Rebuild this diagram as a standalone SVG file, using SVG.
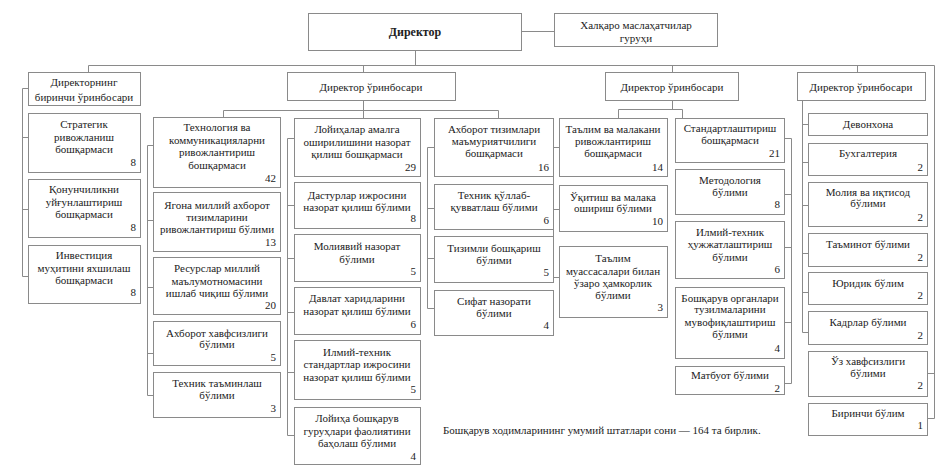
<svg xmlns="http://www.w3.org/2000/svg" width="947" height="473" viewBox="0 0 947 473">
<style>
.b{fill:#fff;stroke:#8a8a8a;stroke-width:1}
.t{font-family:"Liberation Serif","Times New Roman",serif;font-size:11px;fill:#222;text-anchor:middle}
.n{text-anchor:end}
.c{stroke:#8a8a8a;stroke-width:1;fill:none}
.h{font-weight:bold;font-size:12px}
</style>
<rect width="947" height="473" fill="#fff"/>
<g id="connectors" class="c">
<path d="M415.5 50V65.5M88.5 65.5H934.5M88.5 65.5V72M363.5 65.5V72M672.5 65.5V72M857.5 65.5V72M521 31.5H554"/>
<path d="M363.5 100V110.5M223.5 110.5H498.5M223.5 110.5V117M363.5 110.5V118M498.5 110.5V118"/>
<path d="M672.5 100V109.5M618.5 109.5H682.5M618.5 109.5V118M682.5 109.5V118"/>
<path d="M22.5 88.5V276.5M22.5 88.5H28M22.5 137.5H28M22.5 209.5H28M22.5 276.5H28"/>
<path d="M147.5 145.5V395.5M147.5 145.5H153M147.5 220.5H153M147.5 287.5H153M147.5 353.5H153M147.5 395.5H153"/>
<path d="M287.5 138.5V435.5M287.5 138.5H294M287.5 205.5H294M287.5 258.5H294M287.5 312.5H294M287.5 372.5H294M287.5 435.5H294"/>
<path d="M427.5 147.5V308.5M427.5 147.5H434M427.5 208.5H434M427.5 258.5H434M427.5 308.5H434"/>
<path d="M553.5 147.5V277.5M553.5 147.5H559M553.5 209.5H559M553.5 277.5H559"/>
<path d="M791.5 138.5V383.5M784 138.5H791.5M784 194.5H791.5M784 247.5H791.5M784 322.5H791.5M784 383.5H791.5"/>
<path d="M802.5 100V332.5M802.5 124.5H808M802.5 162.5H808M802.5 205.5H808M802.5 253.5H808M802.5 292.5H808M802.5 332.5H808"/>
<path d="M934.5 65.5V418.5M927 373.5H934.5M927 418.5H934.5"/>
</g>
<g id="director"><rect class="b" x="308.5" y="13.5" width="213" height="37"/><text class="t h" x="415" y="36">Директор</text></g>
<g id="intl"><rect class="b" x="554.5" y="13.5" width="163" height="33"/><text class="t" x="636" y="29">Халқаро маслаҳатчилар</text><text class="t" x="636" y="42">гуруҳи</text></g>
<g id="dep1"><rect class="b" x="28.5" y="72.5" width="112" height="33"/><text class="t" x="84" y="86">Директорнинг</text><text class="t" x="84" y="101">биринчи ўринбосари</text></g>
<g id="dep2"><rect class="b" x="287.5" y="72.5" width="168" height="28"/><text class="t" x="371" y="91">Директор ўринбосари</text></g>
<g id="dep3"><rect class="b" x="605.5" y="72.5" width="133" height="28"/><text class="t" x="672" y="91">Директор ўринбосари</text></g>
<g id="dep4"><rect class="b" x="797.5" y="72.5" width="128" height="28"/><text class="t" x="861" y="91">Директор ўринбосари</text></g>

<g id="strategik"><rect class="b" x="28.5" y="113.5" width="112" height="59"/><text class="t" x="84" y="128">Стратегик</text><text class="t" x="84" y="141">ривожланиш</text><text class="t" x="84" y="153">бошқармаси</text><text class="t n" x="136" y="166">8</text></g>
<g id="qonun"><rect class="b" x="28.5" y="179.5" width="112" height="58"/><text class="t" x="84" y="193">Қонунчиликни</text><text class="t" x="84" y="206">уйғунлаштириш</text><text class="t" x="84" y="218">бошқармаси</text><text class="t n" x="136" y="231">8</text></g>
<g id="invest"><rect class="b" x="28.5" y="245.5" width="112" height="58"/><text class="t" x="84" y="259">Инвестиция</text><text class="t" x="84" y="272">муҳитини яхшилаш</text><text class="t" x="84" y="284">бошқармаси</text><text class="t n" x="136" y="296">8</text></g>

<g id="tech"><rect class="b" x="153.5" y="117.5" width="127" height="70"/><text class="t" x="217" y="131">Технология ва</text><text class="t" x="217" y="144">коммуникацияларни</text><text class="t" x="217" y="156">ривожлантириш</text><text class="t" x="217" y="169">бошқармаси</text><text class="t n" x="276" y="182">42</text></g>
<g id="yagona"><rect class="b" x="153.5" y="192.5" width="127" height="59"/><text class="t" x="217" y="209">Ягона миллий ахборот</text><text class="t" x="217" y="221">тизимларини</text><text class="t" x="217" y="233">ривожлантириш бўлими</text><text class="t n" x="276" y="246">13</text></g>
<g id="resurs"><rect class="b" x="153.5" y="257.5" width="127" height="57"/><text class="t" x="217" y="272">Ресурслар миллий</text><text class="t" x="217" y="285">маълумотномасини</text><text class="t" x="217" y="297">ишлаб чиқиш бўлими</text><text class="t n" x="276" y="309">20</text></g>
<g id="axbxavf"><rect class="b" x="153.5" y="321.5" width="127" height="44"/><text class="t" x="217" y="337">Ахборот хавфсизлиги</text><text class="t" x="217" y="348">бўлими</text><text class="t n" x="276" y="361">5</text></g>
<g id="texnik"><rect class="b" x="153.5" y="372.5" width="127" height="45"/><text class="t" x="217" y="387">Техник таъминлаш</text><text class="t" x="217" y="399">бўлими</text><text class="t n" x="276" y="412">3</text></g>

<g id="loyiha"><rect class="b" x="294.5" y="118.5" width="126" height="58"/><text class="t" x="357" y="133">Лойиҳалар амалга</text><text class="t" x="357" y="146">оширилишини назорат</text><text class="t" x="357" y="158">қилиш бошқармаси</text><text class="t n" x="416" y="171">29</text></g>
<g id="dastur"><rect class="b" x="294.5" y="182.5" width="126" height="46"/><text class="t" x="357" y="199">Дастурлар ижросини</text><text class="t" x="357" y="211">назорат қилиш бўлими</text><text class="t n" x="416" y="222">8</text></g>
<g id="moliyaviy"><rect class="b" x="294.5" y="234.5" width="126" height="47"/><text class="t" x="357" y="250">Молиявий назорат</text><text class="t" x="357" y="263">бўлими</text><text class="t n" x="416" y="275">5</text></g>
<g id="davlat"><rect class="b" x="294.5" y="287.5" width="126" height="47"/><text class="t" x="357" y="302">Давлат харидларини</text><text class="t" x="357" y="315">назорат қилиш бўлими</text><text class="t n" x="416" y="328">6</text></g>
<g id="ilmiy1"><rect class="b" x="294.5" y="340.5" width="126" height="59"/><text class="t" x="357" y="356">Илмий-техник</text><text class="t" x="357" y="368">стандартлар ижросини</text><text class="t" x="357" y="381">назорат қилиш бўлими</text><text class="t n" x="416" y="393">5</text></g>
<g id="loyihaboshq"><rect class="b" x="294.5" y="407.5" width="126" height="57"/><text class="t" x="357" y="422">Лойиҳа бошқарув</text><text class="t" x="357" y="435">гуруҳлари фаолиятини</text><text class="t" x="357" y="447">баҳолаш бўлими</text><text class="t n" x="416" y="460">4</text></g>

<g id="axtizim"><rect class="b" x="434.5" y="118.5" width="119" height="58"/><text class="t" x="494" y="133">Ахборот тизимлари</text><text class="t" x="494" y="145">маъмуриятчилиги</text><text class="t" x="494" y="157">бошқармаси</text><text class="t n" x="549" y="171">16</text></g>
<g id="qollab"><rect class="b" x="434.5" y="184.5" width="119" height="45"/><text class="t" x="494" y="199">Техник қўллаб-</text><text class="t" x="494" y="211">қувватлаш бўлими</text><text class="t n" x="549" y="224">6</text></g>
<g id="tizimli"><rect class="b" x="434.5" y="236.5" width="119" height="46"/><text class="t" x="494" y="252">Тизимли бошқариш</text><text class="t" x="494" y="264">бўлими</text><text class="t n" x="549" y="276">5</text></g>
<g id="sifat"><rect class="b" x="434.5" y="290.5" width="119" height="45"/><text class="t" x="494" y="305">Сифат назорати</text><text class="t" x="494" y="317">бўлими</text><text class="t n" x="549" y="329">4</text></g>

<g id="talim"><rect class="b" x="559.5" y="118.5" width="108" height="58"/><text class="t" x="613" y="133">Таълим ва малакани</text><text class="t" x="613" y="145">ривожлантириш</text><text class="t" x="613" y="157">бошқармаси</text><text class="t n" x="663" y="171">14</text></g>
<g id="oqitish"><rect class="b" x="559.5" y="185.5" width="108" height="46"/><text class="t" x="613" y="201">Ўқитиш ва малака</text><text class="t" x="613" y="212">ошириш бўлими</text><text class="t n" x="663" y="225">10</text></g>
<g id="muassasa"><rect class="b" x="559.5" y="246.5" width="108" height="71"/><text class="t" x="613" y="262">Таълим</text><text class="t" x="613" y="275">муассасалари билан</text><text class="t" x="613" y="287">ўзаро ҳамкорлик</text><text class="t" x="613" y="299">бўлими</text><text class="t n" x="663" y="311">3</text></g>

<g id="standart"><rect class="b" x="675.5" y="118.5" width="109" height="44"/><text class="t" x="730" y="132">Стандартлаштириш</text><text class="t" x="730" y="144">бошқармаси</text><text class="t n" x="780" y="157">21</text></g>
<g id="metod"><rect class="b" x="675.5" y="169.5" width="109" height="45"/><text class="t" x="730" y="184">Методология</text><text class="t" x="730" y="196">бўлими</text><text class="t n" x="780" y="208">8</text></g>
<g id="hujjat"><rect class="b" x="675.5" y="221.5" width="109" height="57"/><text class="t" x="730" y="236">Илмий-техник</text><text class="t" x="730" y="248">ҳужжатлаштириш</text><text class="t" x="730" y="261">бўлими</text><text class="t n" x="780" y="273">6</text></g>
<g id="organ"><rect class="b" x="675.5" y="287.5" width="109" height="71"/><text class="t" x="730" y="302">Бошқарув органлари</text><text class="t" x="730" y="313">тузилмаларини</text><text class="t" x="730" y="326">мувофиқлаштириш</text><text class="t" x="730" y="338">бўлими</text><text class="t n" x="780" y="352">4</text></g>
<g id="matbuot"><rect class="b" x="675.5" y="366.5" width="109" height="28"/><text class="t" x="730" y="379">Матбуот бўлими</text><text class="t n" x="780" y="392">2</text></g>

<g id="devon"><rect class="b" x="808.5" y="113.5" width="119" height="22"/><text class="t" x="868" y="128">Девонхона</text></g>
<g id="buxg"><rect class="b" x="808.5" y="143.5" width="119" height="32"/><text class="t" x="868" y="157">Бухгалтерия</text><text class="t n" x="923" y="171">2</text></g>
<g id="moliya"><rect class="b" x="808.5" y="182.5" width="119" height="44"/><text class="t" x="868" y="196">Молия ва иқтисод</text><text class="t" x="868" y="207">бўлими</text><text class="t n" x="923" y="221">2</text></g>
<g id="taminot"><rect class="b" x="808.5" y="233.5" width="119" height="33"/><text class="t" x="868" y="248">Таъминот бўлими</text><text class="t n" x="923" y="261">2</text></g>
<g id="yuridik"><rect class="b" x="808.5" y="272.5" width="119" height="32"/><text class="t" x="868" y="287">Юридик бўлим</text><text class="t n" x="923" y="299">2</text></g>
<g id="kadr"><rect class="b" x="808.5" y="311.5" width="119" height="33"/><text class="t" x="868" y="326">Кадрлар бўлими</text><text class="t n" x="923" y="339">2</text></g>
<g id="ozxavf"><rect class="b" x="808.5" y="351.5" width="119" height="45"/><text class="t" x="868" y="365">Ўз хавфсизлиги</text><text class="t" x="868" y="377">бўлими</text><text class="t n" x="923" y="389">2</text></g>
<g id="birinchi"><rect class="b" x="808.5" y="403.5" width="119" height="32"/><text class="t" x="868" y="417">Биринчи бўлим</text><text class="t n" x="923" y="429">1</text></g>

<text class="t" x="443" y="434" style="text-anchor:start">Бошқарув ходимларининг умумий штатлари сони — 164 та бирлик.</text>
</svg>
